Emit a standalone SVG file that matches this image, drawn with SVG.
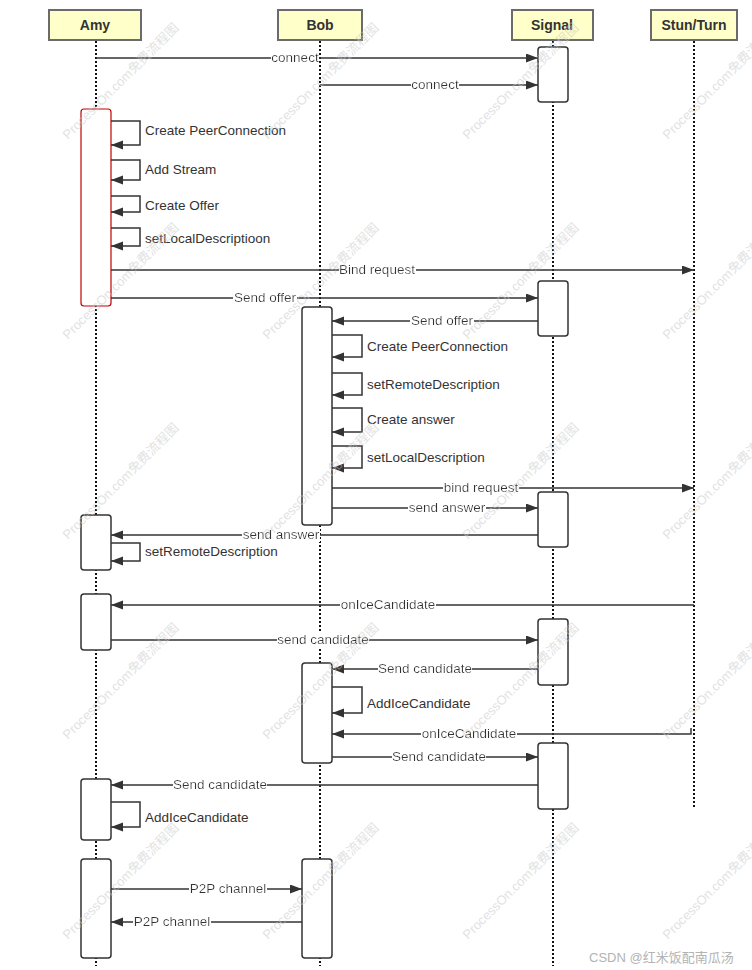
<svg xmlns="http://www.w3.org/2000/svg" width="752" height="970" viewBox="0 0 752 970">
<style>
.hdr{fill:#ffffc9;stroke:#6b6b6b;stroke-width:2}
.ht{font-family:"Liberation Sans",Arial,sans-serif;font-size:14px;font-weight:bold;fill:#333;text-anchor:middle}
.life{stroke:#111;stroke-width:2;stroke-dasharray:2,2;fill:none}
.act{fill:#fff;stroke:#333;stroke-width:1.5}
.actr{fill:#fff;stroke:#c00000;stroke-width:1.2}
.msg{stroke:#333;stroke-width:1.5;fill:none}
.lbl{font-family:"Liberation Sans",Arial,sans-serif;font-size:13.5px;fill:#333}
.c{text-anchor:middle;filter:url(#bg)}
.wm{font-family:"Liberation Sans",Arial,"Noto Sans CJK SC",sans-serif;font-size:13px;fill:#c8c8c8;fill-opacity:0.55}
.csdn{font-family:"Liberation Sans",Arial,"Noto Sans CJK SC",sans-serif;font-size:13px;fill:#b3b3b3}
</style>
<defs>
<marker id="arr" markerUnits="userSpaceOnUse" markerWidth="13" markerHeight="10" refX="12" refY="4.5" orient="auto">
<path d="M0,0 L12,4.5 L0,9 Z" fill="#333"/>
</marker>
<filter id="bg" x="0" y="0" width="1" height="1">
<feFlood flood-color="#ffffff"/>
<feComposite in="SourceGraphic"/>
</filter>
</defs>
<rect width="752" height="970" fill="#fff"/>
<g id="lifelines">
<line class="life" x1="96" y1="41" x2="96" y2="966"/>
<line class="life" x1="320" y1="41" x2="320" y2="966"/>
<line class="life" x1="553" y1="41" x2="553" y2="966"/>
<line class="life" x1="694" y1="41" x2="694" y2="808"/>
</g>
<g id="node-amy"><rect class="hdr" x="49" y="10" width="92" height="30"/><text class="ht" x="95" y="30">Amy</text></g>
<g id="node-bob"><rect class="hdr" x="278" y="10" width="84" height="30"/><text class="ht" x="320" y="30">Bob</text></g>
<g id="node-signal"><rect class="hdr" x="512" y="10" width="81" height="30"/><text class="ht" x="552" y="30">Signal</text></g>
<g id="node-stun"><rect class="hdr" x="651" y="10" width="86" height="30"/><text class="ht" x="694" y="30">Stun/Turn</text></g>
<g id="activations">
<rect id="amy-act1" class="actr" x="81" y="109" width="30" height="197" rx="3"/>
<rect id="amy-act2" class="act" x="81" y="515" width="30" height="55" rx="3"/>
<rect id="amy-act3" class="act" x="81" y="594" width="30" height="56" rx="3"/>
<rect id="amy-act4" class="act" x="81" y="779" width="30" height="61" rx="3"/>
<rect id="amy-act5" class="act" x="81" y="859" width="30" height="99" rx="3"/>
<rect id="bob-act1" class="act" x="302" y="307" width="30" height="218" rx="3"/>
<rect id="bob-act2" class="act" x="302" y="663" width="30" height="100" rx="3"/>
<rect id="bob-act3" class="act" x="302" y="859" width="30" height="99" rx="3"/>
<rect id="sig-act1" class="act" x="538" y="47" width="30" height="55" rx="3"/>
<rect id="sig-act2" class="act" x="538" y="281" width="30" height="55" rx="3"/>
<rect id="sig-act3" class="act" x="538" y="492" width="30" height="55" rx="3"/>
<rect id="sig-act4" class="act" x="538" y="619" width="30" height="66" rx="3"/>
<rect id="sig-act5" class="act" x="538" y="743" width="30" height="66" rx="3"/>
</g>
<g id="connectors">
<line class="msg" x1="96" y1="58" x2="538" y2="58" marker-end="url(#arr)"/>
<line class="msg" x1="320" y1="85" x2="538" y2="85" marker-end="url(#arr)"/>
<path class="msg" d="M111,121 H140 V145 H111" marker-end="url(#arr)"/>
<path class="msg" d="M111,160 H140 V180 H111" marker-end="url(#arr)"/>
<path class="msg" d="M111,196 H140 V212 H111" marker-end="url(#arr)"/>
<path class="msg" d="M111,228 H140 V246 H111" marker-end="url(#arr)"/>
<line class="msg" x1="111" y1="270" x2="694" y2="270" marker-end="url(#arr)"/>
<line class="msg" x1="111" y1="298" x2="538" y2="298" marker-end="url(#arr)"/>
<line class="msg" x1="538" y1="321" x2="332" y2="321" marker-end="url(#arr)"/>
<path class="msg" d="M332,335 H362 V357 H332" marker-end="url(#arr)"/>
<path class="msg" d="M332,373 H362 V395 H332" marker-end="url(#arr)"/>
<path class="msg" d="M332,408 H362 V432 H332" marker-end="url(#arr)"/>
<path class="msg" d="M332,446 H362 V468 H332" marker-end="url(#arr)"/>
<line class="msg" x1="332" y1="488" x2="694" y2="488" marker-end="url(#arr)"/>
<line class="msg" x1="332" y1="508" x2="538" y2="508" marker-end="url(#arr)"/>
<line class="msg" x1="538" y1="535" x2="111" y2="535" marker-end="url(#arr)"/>
<path class="msg" d="M111,543 H140 V561 H111" marker-end="url(#arr)"/>
<line class="msg" x1="694" y1="605" x2="111" y2="605" marker-end="url(#arr)"/>
<line class="msg" x1="111" y1="640" x2="538" y2="640" marker-end="url(#arr)"/>
<line class="msg" x1="538" y1="669" x2="332" y2="669" marker-end="url(#arr)"/>
<path class="msg" d="M332,687 H362 V713 H332" marker-end="url(#arr)"/>
<path class="msg" d="M691,728 V734 H332" marker-end="url(#arr)"/>
<line class="msg" x1="332" y1="757" x2="538" y2="757" marker-end="url(#arr)" stroke-width="2"/>
<line class="msg" x1="538" y1="785" x2="111" y2="785" marker-end="url(#arr)"/>
<path class="msg" d="M111,802 H140 V827 H111" marker-end="url(#arr)"/>
<line class="msg" x1="111" y1="889" x2="302" y2="889" marker-end="url(#arr)"/>
<line class="msg" x1="302" y1="922" x2="111" y2="922" marker-end="url(#arr)"/>
</g>
<g id="labels">
<text class="lbl c" x="295" y="62">connect</text>
<text class="lbl c" x="435" y="89">connect</text>
<text class="lbl" x="145" y="135">Create PeerConnection</text>
<text class="lbl" x="145" y="174">Add Stream</text>
<text class="lbl" x="145" y="210">Create Offer</text>
<text class="lbl" x="145" y="243">setLocalDescriptioon</text>
<text class="lbl c" x="377" y="274">Bind request</text>
<text class="lbl c" x="265" y="302">Send offer</text>
<text class="lbl c" x="442" y="325">Send offer</text>
<text class="lbl" x="367" y="351">Create PeerConnection</text>
<text class="lbl" x="367" y="389">setRemoteDescription</text>
<text class="lbl" x="367" y="424">Create answer</text>
<text class="lbl" x="367" y="462">setLocalDescription</text>
<text class="lbl c" x="481" y="492">bind request</text>
<text class="lbl c" x="447" y="512">send answer</text>
<text class="lbl c" x="281" y="539">send answer</text>
<text class="lbl" x="145" y="556">setRemoteDescription</text>
<text class="lbl c" x="388" y="609">onIceCandidate</text>
<text class="lbl c" x="323" y="644">send candidate</text>
<text class="lbl c" x="425" y="673">Send candidate</text>
<text class="lbl" x="367" y="708">AddIceCandidate</text>
<text class="lbl c" x="469" y="738">onIceCandidate</text>
<text class="lbl c" x="439" y="761">Send candidate</text>
<text class="lbl c" x="220" y="789">Send candidate</text>
<text class="lbl" x="145" y="822">AddIceCandidate</text>
<text class="lbl c" x="228" y="893">P2P channel</text>
<text class="lbl c" x="172" y="926">P2P channel</text>
</g>
<g id="watermarks">
<text class="wm" transform="translate(68,140) rotate(-45)">ProcessOn.com免费流程图</text>
<text class="wm" transform="translate(268,140) rotate(-45)">ProcessOn.com免费流程图</text>
<text class="wm" transform="translate(468,140) rotate(-45)">ProcessOn.com免费流程图</text>
<text class="wm" transform="translate(668,140) rotate(-45)">ProcessOn.com免费流程图</text>
<text class="wm" transform="translate(68,340) rotate(-45)">ProcessOn.com免费流程图</text>
<text class="wm" transform="translate(268,340) rotate(-45)">ProcessOn.com免费流程图</text>
<text class="wm" transform="translate(468,340) rotate(-45)">ProcessOn.com免费流程图</text>
<text class="wm" transform="translate(668,340) rotate(-45)">ProcessOn.com免费流程图</text>
<text class="wm" transform="translate(68,540) rotate(-45)">ProcessOn.com免费流程图</text>
<text class="wm" transform="translate(268,540) rotate(-45)">ProcessOn.com免费流程图</text>
<text class="wm" transform="translate(468,540) rotate(-45)">ProcessOn.com免费流程图</text>
<text class="wm" transform="translate(668,540) rotate(-45)">ProcessOn.com免费流程图</text>
<text class="wm" transform="translate(68,740) rotate(-45)">ProcessOn.com免费流程图</text>
<text class="wm" transform="translate(268,740) rotate(-45)">ProcessOn.com免费流程图</text>
<text class="wm" transform="translate(468,740) rotate(-45)">ProcessOn.com免费流程图</text>
<text class="wm" transform="translate(668,740) rotate(-45)">ProcessOn.com免费流程图</text>
<text class="wm" transform="translate(68,940) rotate(-45)">ProcessOn.com免费流程图</text>
<text class="wm" transform="translate(268,940) rotate(-45)">ProcessOn.com免费流程图</text>
<text class="wm" transform="translate(468,940) rotate(-45)">ProcessOn.com免费流程图</text>
<text class="wm" transform="translate(668,940) rotate(-45)">ProcessOn.com免费流程图</text>
</g>
<text class="csdn" x="589" y="962">CSDN @红米饭配南瓜汤</text>
</svg>
